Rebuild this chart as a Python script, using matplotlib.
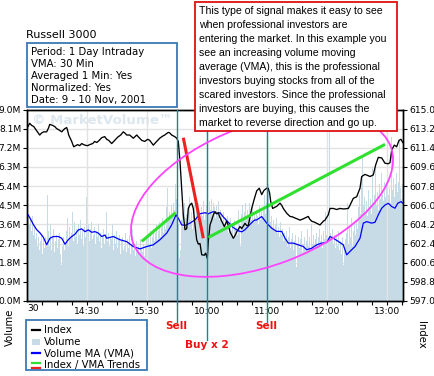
import matplotlib
matplotlib.use("Agg")
import matplotlib.pyplot as plt
import matplotlib.transforms as mtransforms
from matplotlib.patches import Ellipse, Rectangle
from matplotlib.lines import Line2D
import numpy as np

# ---------------- data ----------------
title = "Russell 3000"
info_lines = ["Period: 1 Day Intraday", "VMA: 30 Min", "Averaged 1 Min: Yes",
              "Normalized: Yes", "Date: 9 - 10 Nov, 2001"]
note_lines = ["This type of signal makes it easy to see",
              "when professional investors are",
              "entering the market. In this example you",
              "see an increasing volume moving",
              "average (VMA), this is the professional",
              "investors buying stocks from all of the",
              "scared investors. Since the professional",
              "investors are buying, this causes the",
              "market to reverse direction and go up."]

# x axis: trading minutes since 13:30 (9 Nov); 16:00 close joins 9:30 open (10 Nov)
x_tick_pos = [60, 120, 180, 240, 300, 360]
x_tick_labels = ["14:30", "15:30", "10:00", "11:00", "12:00", "13:00"]
x_minor_pos = [15, 30, 45, 75, 90, 105, 135, 150, 165, 195, 210, 225,
               255, 270, 285, 315, 330, 345, 375]

vol_ticks = [0.0, 0.9, 1.8, 2.7, 3.6, 4.5, 5.4, 6.3, 7.2, 8.1, 9.0]
idx_ticks = [597.0, 598.8, 600.6, 602.4, 604.2, 606.0, 607.8, 609.6, 611.4, 613.2, 615.0]

# per-minute volume (millions), minute 0 .. 376
volume = [
    4.3, 3.9, 4.1, 3.6, 3.8, 3.3, 4.0, 3.1, 3.5, 2.9,
    3.2, 2.6, 3.0, 2.4, 2.8, 3.1, 2.2, 2.9, 2.5, 3.0,
    2.7, 5.0, 3.3, 2.6, 3.6, 2.4, 3.0, 3.4, 2.3, 2.8,
    3.1, 2.5, 2.9, 3.2, 2.2, 1.7, 2.6, 3.0, 2.4, 2.7,
    3.3, 3.9, 2.6, 3.5, 2.9, 3.2, 4.2, 2.8, 3.7, 3.0,
    3.4, 2.7, 3.6, 3.1, 3.8, 2.9, 3.3, 2.6, 3.5, 3.0,
    4.9, 3.2, 3.6, 2.8, 3.4, 3.7, 2.9, 3.1, 3.5, 2.7,
    3.3, 3.0, 3.6, 2.8, 3.2, 2.5, 3.0, 3.4, 2.7, 3.1,
    4.2, 2.8, 3.2, 2.6, 3.0, 2.9, 3.6, 2.4, 3.1, 2.7,
    3.3, 2.5, 2.9, 3.1, 2.2, 2.8, 3.0, 2.4, 2.6, 3.2,
    2.3, 2.9, 2.5, 3.1, 2.2, 2.7, 3.4, 2.4, 2.6, 2.1,
    2.8, 2.4, 2.6, 2.2, 2.9, 2.5, 2.3, 2.7, 2.1, 2.6,
    2.9, 2.4, 3.1, 2.7, 3.3, 2.5, 3.0, 3.4, 2.8, 3.2,
    3.6, 2.9, 3.3, 3.7, 3.0, 3.5, 3.9, 3.2, 3.6, 3.4,
    4.4, 5.3, 3.8, 4.2, 3.9, 4.5, 4.1, 4.6, 4.3, 5.5,
    4.8, 4.3, 3.6, 2.0, 2.4, 3.8, 4.2, 3.5, 4.6, 3.9,
    4.1, 3.6, 4.4, 4.9, 3.8, 4.2, 3.4, 4.0, 4.5, 3.7,
    4.3, 3.9, 4.6, 4.1, 3.6, 4.4, 4.0, 4.7, 3.8, 4.2,
    4.5, 4.9, 4.1, 4.7, 4.3, 4.8, 4.0, 4.6, 4.4, 3.9,
    4.5, 4.2, 4.7, 3.8, 4.3, 4.0, 3.6, 4.2, 3.5, 3.9,
    3.4, 4.0, 3.2, 3.7, 3.9, 3.3, 3.6, 3.0, 3.8, 3.4,
    3.5, 3.1, 4.3, 3.6, 2.6, 4.1, 4.5, 3.8, 4.2, 4.6,
    3.9, 4.3, 4.0, 4.6, 4.1, 3.8, 4.4, 3.7, 4.2, 3.9,
    4.3, 4.0, 3.6, 4.5, 3.8, 4.2, 3.9, 4.4, 5.0, 4.1,
    4.6, 3.9, 5.5, 4.3, 3.7, 4.0, 3.5, 3.8, 3.3, 3.6,
    3.9, 3.2, 3.5, 3.0, 3.7, 3.1, 3.4, 2.8, 3.2, 2.9,
    3.3, 2.6, 3.0, 3.5, 2.5, 2.9, 3.2, 2.4, 2.8, 3.1,
    1.6, 2.7, 3.0, 2.5, 2.9, 3.3, 2.3, 2.7, 3.0, 2.4,
    2.8, 3.4, 2.6, 3.0, 2.5, 3.6, 2.7, 3.1, 2.4, 2.9,
    3.2, 2.6, 3.0, 3.4, 2.8, 3.1, 2.5, 3.3, 2.9, 4.2,
    3.1, 3.5, 2.8, 8.8, 3.2, 2.9, 3.4, 2.7, 3.1, 2.5,
    3.0, 2.6, 3.3, 2.4, 2.8, 2.2, 3.0, 1.7, 2.5, 2.9,
    3.2, 4.6, 2.7, 3.5, 3.0, 3.9, 2.6, 3.3, 3.7, 3.1,
    3.8, 3.4, 4.4, 5.0, 4.1, 5.6, 6.75, 4.5, 4.9, 4.2,
    4.7, 4.0, 5.2, 4.4, 4.8, 4.1, 6.3, 4.6, 5.0, 6.2,
    4.5, 5.1, 4.3, 5.5, 4.8, 6.0, 5.2, 4.7, 5.6, 4.9,
    5.4, 6.1, 5.0, 5.3, 4.6, 7.7, 5.2, 5.8, 4.9, 5.5,
    6.0, 5.1, 5.6, 7.5, 5.3, 4.8, 5.5,
]
vol_minutes = list(range(len(volume)))

vma_minutes = [0, 3.3, 6.6, 10, 13.3, 16.6, 20, 23.3, 26.6, 31.6, 35, 38.3, 41.6, 45,
               48.3, 51.6, 55, 58.3, 61.6, 65, 68.3, 71.6, 75, 78.3, 80, 86.6, 93.3,
               100, 106.6, 113.3, 120, 126.6, 133.3, 140, 145, 149.3, 151.6, 155,
               158.3, 163.3, 168.3, 173.3, 178.3, 181.6, 186.6, 190, 193.3, 196.6,
               201.6, 206.6, 211.6, 215, 218.3, 223.3, 227.6, 230, 235, 240, 245,
               250, 255, 258.3, 261.6, 266.6, 271.6, 276.6, 280, 285, 290, 295, 300,
               303.3, 306.6, 311.6, 316.6, 320, 323.3, 328.3, 333.3, 336.6, 340,
               345, 348.3, 351.6, 355, 358.3, 361.6, 365, 368.3, 371, 374.3, 376]
vma_values = [4.15, 3.9, 3.6, 3.35, 3.2, 3.0, 2.65, 2.95, 3.03, 3.03, 2.95, 2.67, 2.88,
              3.03, 3.14, 3.34, 3.39, 3.26, 3.34, 3.23, 3.26, 3.19, 3.03, 3.1, 2.95,
              3.03, 2.88, 2.79, 2.56, 2.45, 2.56, 2.64, 2.88, 3.19, 3.58, 4.05, 3.89,
              3.58, 3.55, 3.66, 3.81, 4.1, 4.15, 4.1, 4.2, 4.1, 4.15, 3.95, 3.7, 3.45,
              3.3, 3.25, 3.35, 3.6, 3.8, 3.81, 3.97, 3.66, 3.42, 3.27, 3.27, 2.95,
              2.72, 2.72, 2.64, 2.56, 2.41, 2.48, 2.64, 2.72, 2.75, 3.03, 2.95, 2.8,
              2.64, 2.17, 2.33, 2.56, 2.95, 3.66, 3.73, 3.66, 3.7, 4.05, 4.36, 4.51,
              4.59, 4.44, 4.36, 4.59, 4.67, 4.6]

index_minutes = [0, 3, 5, 7, 10, 13, 15, 17, 20, 22, 23, 26, 28, 30, 32, 35, 37, 38, 40,
                 41, 42, 45, 47, 49, 51, 53, 55, 57, 58, 61, 63, 66, 68, 70, 72, 75, 78,
                 80, 82, 85, 88, 91, 94, 96.6, 98, 100, 103, 106.6, 110, 112, 115, 118,
                 121, 123, 126.6, 128, 130, 133, 136, 138, 141.6, 143, 145, 148, 150,
                 151.6, 153.3, 155, 156.6, 158.3, 160, 161.6, 163, 165, 166.6, 168.3,
                 170, 171.6, 173.3, 175, 177.6, 179, 180.6, 181.6, 183.3, 185, 186.6,
                 188.3, 190, 191.6, 193, 195, 197.6, 200, 201.6, 203.3, 205, 206.6, 208,
                 210, 213.3, 215, 218.3, 220, 221.6, 224.3, 225, 227.3, 230, 232.6, 235,
                 237.3, 240, 241.6, 243, 244, 246, 248, 250, 253.3, 255, 256.6, 260,
                 263.3, 266, 268.3, 271, 273.3, 276, 278.3, 281.6, 283, 285, 288, 290,
                 293.3, 296.6, 298.3, 301.6, 303.3, 306.6, 310, 313.3, 317, 321.6,
                 323.3, 326.6, 330, 333.3, 335, 338.3, 341, 343.3, 346.6, 349, 351.6,
                 355, 358.3, 361.6, 363.3, 365, 367.6, 370, 372.3, 374.3, 376]
index_values = [613.2, 613.7, 613.5, 613.4, 613.0, 612.6, 612.8, 612.9, 612.9, 613.3,
                613.6, 613.5, 613.4, 613.2, 613.1, 612.9, 613.1, 613.2, 613.3, 613.0,
                612.6, 612.0, 611.5, 611.6, 611.7, 611.6, 611.8, 611.7, 611.65, 611.6,
                611.7, 611.8, 612.0, 611.9, 612.05, 612.35, 612.45, 612.2, 612.1, 611.8,
                612.1, 612.4, 612.6, 612.9, 612.8, 612.6, 612.6, 612.3, 612.6, 612.4,
                612.1, 612.0, 612.2, 612.1, 611.65, 611.8, 612.0, 612.3, 612.5, 612.6,
                612.85, 612.8, 612.6, 612.45, 612.3, 612.0, 610.1, 607.6, 605.1, 603.7,
                603.8, 605.7, 606.0, 606.2, 605.7, 604.15, 602.75, 602.35, 602.4, 601.35,
                601.3, 601.5, 601.0, 602.6, 604.15, 604.6, 605.1, 605.4, 605.2, 605.3,
                604.9, 604.5, 604.0, 604.5, 604.1, 603.5, 603.2, 602.9, 603.1, 603.5,
                604.0, 603.8, 604.3, 604.1, 604.1, 605.4, 605.7, 606.5, 607.35, 607.6,
                607.0, 607.4, 607.6, 607.6, 607.1, 606.35, 605.7, 605.8, 605.9, 606.2,
                606.0, 605.7, 605.25, 604.95, 604.9, 604.8, 604.7, 604.6, 604.7, 604.8,
                604.95, 604.7, 604.5, 604.4, 604.3, 604.15, 604.5, 604.6, 605.1, 605.7,
                605.7, 605.6, 605.7, 605.65, 605.7, 606.0, 606.65, 606.8, 607.6, 608.7,
                608.9, 608.8, 608.7, 608.85, 609.8, 610.5, 610.45, 609.95, 609.9, 610.0,
                611.2, 611.65, 611.5, 612.1, 612.2, 611.9]

# trend lines (index scale)
trend_green1_x = [115, 149]
trend_green1_y = [602.6, 605.3]
trend_green2_x = [181.6, 358.3]
trend_green2_y = [602.97, 611.72]
trend_red_x = [156.6, 176.6]
trend_red_y = [612.35, 602.9]

# signals
signal_minutes = [150, 180, 240]
signal_labels = ["Sell", "Buy x 2", "Sell"]
signal_levels = [0, 1, 0]

# ---------------- figure ----------------
W, H = 435, 376
fig = plt.figure(figsize=(W / 100, H / 100), dpi=100)
pix = mtransforms.Affine2D().scale(1.0 / W, 1.0 / H) + fig.transFigure


def P(x, y):
    """pixel (from top-left) -> pixel coords with y up"""
    return x, H - y


L, R, T, B = 26.7, 403.0, 109.5, 301.0
ax = fig.add_axes([L / W, 1 - B / H, (R - L) / W, (B - T) / H])
ax2 = ax.twinx()

bar_col = "#c6dbe6"
grid_col = "#e2e2e2"
teal = "#0e8c8c"
red_txt = "#ee1111"

ax.set_xlim(0, 376.3)
ax.set_ylim(0, 9.0)
ax2.set_ylim(597.0, 615.0)

for v in vol_ticks:
    ax.axhline(v, color=grid_col, lw=1.0, zorder=0.4)
ax.bar(vol_minutes, volume, width=1.0, color=bar_col, linewidth=0, zorder=1)
for xp in x_tick_pos:
    ax.axvline(xp, color=grid_col, lw=1.0, zorder=1.5)
ax.plot(vma_minutes, vma_values, color="#0000ff", lw=0.9, zorder=3)

ax.text(102, H - 121, "\u00a9 MarketVolume\u2122", transform=pix, ha="center",
        va="center", fontsize=9.6, fontweight="bold", color="#dde7ef", zorder=0.6,
        family="DejaVu Sans")

ax2.plot(index_minutes, index_values, color="black", lw=0.95, zorder=3)
ax2.plot(trend_green1_x, trend_green1_y, color="#2fe02f", lw=2.2, zorder=4,
         solid_capstyle="butt")
ax2.plot(trend_green2_x, trend_green2_y, color="#2fe02f", lw=2.2, zorder=4,
         solid_capstyle="butt")
ax2.plot(trend_red_x, trend_red_y, color="#f02020", lw=2.2, zorder=4,
         solid_capstyle="butt")

blend = mtransforms.blended_transform_factory(ax2.transData, ax2.transAxes)
for xm, lab, lev in zip(signal_minutes, signal_labels, signal_levels):
    ybot = -0.11 if lev == 0 else -0.205
    ax2.add_line(Line2D([xm, xm], [1.0, ybot], transform=blend, color=teal, lw=1.0,
                        clip_on=False, zorder=5))
    ytxt = -0.131 if lev == 0 else -0.23
    ax2.text(xm, ytxt, lab, transform=blend, ha="center", va="center",
             fontsize=7.6, fontweight="bold", color=red_txt, clip_on=False)

# axes styling
for a in (ax, ax2):
    for s in a.spines.values():
        s.set_color("black")
        s.set_linewidth(1.0)
ax.set_yticks(vol_ticks)
ax.set_yticklabels(["%.1fM" % v for v in vol_ticks])
ax2.set_yticks(idx_ticks)
ax2.set_yticklabels(["%.1f" % v for v in idx_ticks])
ax.set_xticks(x_tick_pos)
ax.set_xticklabels(x_tick_labels)
ax.set_xticks(x_minor_pos, minor=True)
ax.tick_params(axis="y", labelsize=6.6, length=3, pad=1, width=0.8)
ax2.tick_params(axis="y", labelsize=6.6, length=3, pad=1.5, width=0.8)
ax.tick_params(axis="x", which="both", labelsize=6.6, length=3, pad=1.5, width=0.8)
for lbl in ax.get_yticklabels() + ax2.get_yticklabels() + ax.get_xticklabels():
    lbl.set_family("DejaVu Sans")
fig.text(33.5 / W, 1 - 308.5 / H, "30", ha="center", va="center", fontsize=6.6)

# axis titles
fig.text(9.5 / W, 1 - 327.5 / H, "Volume", rotation=90, ha="center", va="center",
         fontsize=7.3)
fig.text(421.5 / W, 1 - 334.5 / H, "Index", rotation=270, ha="center", va="center",
         fontsize=7.3)

# ellipse highlighting the signal
ell = Ellipse(P(262, 195), 275, 141, angle=20.65, transform=pix, fill=False,
              edgecolor="#ff44ff", lw=1.3, zorder=2)
fig.add_artist(ell)

# title and info box
fig.text(26 / W, 1 - 35 / H, title, ha="left", va="center", fontsize=8.0)
fig.add_artist(Rectangle(P(26.7, 107.3), 150, 64.6, transform=pix, fill=True,
                         facecolor="white", edgecolor="#3a78b5", lw=1.3, zorder=3))
for i, s in enumerate(info_lines):
    fig.text(30.7 / W, 1 - (51.7 + 12 * i) / H, s, ha="left", va="center",
             fontsize=7.3, zorder=4)

# explanatory note
fig.add_artist(Rectangle(P(195.5, 131), 201.5, 129, transform=pix, fill=True,
                         facecolor="white", edgecolor="#dd1111", lw=1.3, zorder=6))
for i, s in enumerate(note_lines):
    fig.text(199.5 / W, 1 - (10.5 + 14 * i) / H, s, ha="left", va="center",
             fontsize=7.6, family="Liberation Sans", zorder=7)

# legend
fig.add_artist(Rectangle(P(26.5, 370), 121, 50, transform=pix, fill=False,
                         edgecolor="#3a78b5", lw=1.3, zorder=3))
leg_labels = ["Index", "Volume", "Volume MA (VMA)", "Index / VMA Trends"]
leg_y = [330, 341.7, 353, 365]
fig.add_artist(Line2D([31.7, 40], [H - 330, H - 330], transform=pix, color="black",
                      lw=1.6))
fig.add_artist(Rectangle(P(31.7, 344.5), 8.3, 5.5, transform=pix, color=bar_col, lw=0))
fig.add_artist(Line2D([31.7, 40], [H - 353, H - 353], transform=pix, color="#0000ff",
                      lw=1.6))
fig.add_artist(Line2D([31.7, 40], [H - 362.8, H - 362.8], transform=pix,
                      color="#2fe02f", lw=1.6))
fig.add_artist(Line2D([31.7, 40], [H - 367.5, H - 367.5], transform=pix,
                      color="#f02020", lw=1.6))
for s, yy in zip(leg_labels, leg_y):
    fig.text(44.3 / W, 1 - yy / H, s, ha="left", va="center", fontsize=7.3)

fig.savefig("out.png", dpi=100, facecolor="white")
